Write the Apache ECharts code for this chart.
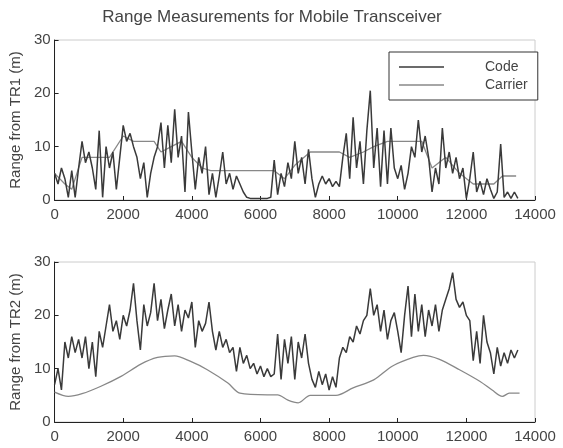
<!DOCTYPE html>
<html>
<head>
<meta charset="utf-8">
<script src="https://cdn.jsdelivr.net/npm/echarts@6/dist/echarts.min.js"></script>
<style>html,body{margin:0;padding:0;background:#fff}#c{width:563px;height:448px}</style>
</head>
<body>
<div id="c"></div>
<script>
// Sample spacing of code measurements (samples every 100 units)
const STEP = 100;
// Top panel: code range from TR1 (m), samples at 0,100,...,13500
const codeTR1 = [5,3,6,4,0.5,5.5,0.5,6,11,7,9,6,2,13,0.5,10,6,9,2,8,
14,11,12.5,10,8,4,7,0.5,5,8,10,14.5,6,14,7,17,8,12,1.5,16.5,
9,2,8,5,10,1,5,0.5,4.5,9,3,5,2,4.5,3,1.5,0.5,0.3,0.3,0.3,
0.3,0.3,0.3,0.5,7.5,1,5,2.5,7,4,11,5,8,3,9.5,4,0.5,3,4.5,3,
4,2.5,3.5,2.5,8,12.5,4,15.5,6,11,3,13,20.5,6,13.5,2.5,13,3,13.5,6,
4,6.5,2,5,10,8,15,9,12,8,1.5,6,3,13.5,6,9,5,8,4,6,
0.3,4,9,1.5,3.5,1,4,2,0.3,1.5,10.5,0.5,1.5,0.3,1.5,0.3];
// Top panel: carrier range from TR1 (m)
const carrierTR1X = [0,300,500,800,1200,1600,2000,2300,2900,3100,3400,3700,4000,4300,4550,6400,6700,7000,7450,8300,8600,9000,9300,9700,10400,10700,11000,11400,11800,12200,12800,13050,13450];
const carrierTR1Y = [5,3,2,8,8,8,12,11,11,9,10,11,8,6,5.5,5.5,4,6.5,9,9,8,9,10,11,11,11,6,8,5,3,3,4.5,4.5];
// Bottom panel: code range from TR2 (m), samples at 0,100,...,13500
const codeTR2 = [7,10,6,15,12,16,13,15.5,12,16,10,15,8.5,17,14,18,22,17,19,15.5,
20,18,21,26,19,13.5,22,18,20.5,26,19,23,17.5,21,24,18,22,17,21,19.5,
22.5,14,19,17,18.5,22.5,17,13.5,17,14,15.5,13,14,9.5,14,11,12.5,10,11,9,
10.5,8.5,10,8.5,9,16.5,8,15.5,11,16,8,15,12,16.5,11,8,6.5,9.5,7,9,
6,8.5,6.5,12,14,13,16,15,18,16.5,19,20,25,20,22,17,21,15.5,19,20.5,
17,13,20,25.5,16,24,17,22,16,21,18,22,17,21,23,25,28,23,21.5,22.5,
20,19,11.5,17,11,20,15,13,9,14,10.5,13,11,13.5,12,13.5];
// Bottom panel: carrier range from TR2 (m)
const carrierTR2X = [0,400,800,1350,1950,2500,3000,3500,3950,4450,5050,5400,6200,6500,6800,7100,7450,8200,8700,9300,9850,10450,10750,11200,11800,12400,12750,13050,13250,13550];
const carrierTR2Y = [5.6,4.8,5.3,6.7,8.6,10.8,12.1,12.4,11.4,9.8,7.3,5.4,5.1,5.1,4.1,3.6,5.0,5.0,6.4,7.9,10.5,12.1,12.5,11.8,9.8,7.6,6.0,4.8,5.4,5.4];
// Axis ticks
const xTicks = [0,2000,4000,6000,8000,10000,12000,14000];
const yTicks = [0,10,20,30];

const pairsStep = (arr) => arr.map((v,i)=>[i*STEP, v]);
const pairs = (xs, ys) => xs.map((x,i)=>[x, ys[i]]);

const FONT = 'Liberation Sans, Arial, sans-serif';
const TXT = '#444';
function xAxis(gi){
  return {type:'value', gridIndex:gi, min:xTicks[0], max:xTicks[xTicks.length-1], interval:2000,
    axisLine:{show:true, lineStyle:{color:'#222', width:1}},
    axisTick:{show:true, inside:true, length:4, lineStyle:{color:'#222'}},
    axisLabel:{color:TXT, fontSize:15, fontFamily:FONT, margin:7, formatter:(v)=>String(v)},
    splitLine:{show:false}};
}
function yAxis(gi, name){
  return {type:'value', gridIndex:gi, min:yTicks[0], max:yTicks[yTicks.length-1], interval:10,
    name:name, nameLocation:'middle', nameGap:29,
    nameTextStyle:{color:TXT, fontSize:15, fontFamily:FONT},
    axisLine:{show:true, lineStyle:{color:'#222', width:1}},
    axisTick:{show:true, inside:true, length:4, lineStyle:{color:'#222'}},
    axisLabel:{color:TXT, fontSize:15, fontFamily:FONT, margin:4, formatter:(v)=>String(v)},
    splitLine:{show:false}};
}
const chart = echarts.init(document.getElementById('c'));
chart.setOption({
  animation:false,
  backgroundColor:'#fff',
  graphic:[{type:'text', x:272, y:17, style:{text:'Range Measurements for Mobile Transceiver', fill:TXT, font:'17px '+FONT, textAlign:'center', textVerticalAlign:'middle'}}],
  legend:{data:['Code','Carrier'], left:389, top:52, orient:'vertical', icon:'rect', itemWidth:45, itemHeight:1.5, itemGap:4,
    borderColor:'#333', borderWidth:1, padding:[8,10,8,10], backgroundColor:'#fff',
    textStyle:{color:TXT, fontSize:14, fontFamily:FONT, padding:[0,0,0,36]}},
  grid:[
    {left:53, right:28, top:40, height:160, show:true, borderColor:'#ccc', borderWidth:1},
    {left:53, right:28, top:262, height:160, show:true, borderColor:'#ccc', borderWidth:1}
  ],
  xAxis:[xAxis(0), xAxis(1)],
  yAxis:[yAxis(0,'Range from TR1 (m)'), yAxis(1,'Range from TR2 (m)')],
  series:[
    {name:'Carrier', type:'line', xAxisIndex:0, yAxisIndex:0, data:pairs(carrierTR1X, carrierTR1Y), showSymbol:false, color:'#888', lineStyle:{width:1.3, color:'#888'}, z:1},
    {name:'Code', type:'line', xAxisIndex:0, yAxisIndex:0, data:pairsStep(codeTR1), showSymbol:false, color:'#3a3a3a', lineStyle:{width:1.5, color:'#3a3a3a'}, z:2},
    {name:'Carrier', type:'line', xAxisIndex:1, yAxisIndex:1, data:pairs(carrierTR2X, carrierTR2Y), smooth:0.3, showSymbol:false, color:'#888', lineStyle:{width:1.3, color:'#888'}},
    {name:'Code', type:'line', xAxisIndex:1, yAxisIndex:1, data:pairsStep(codeTR2), showSymbol:false, color:'#3a3a3a', lineStyle:{width:1.5, color:'#3a3a3a'}}
  ]
});
</script>
</body>
</html>
